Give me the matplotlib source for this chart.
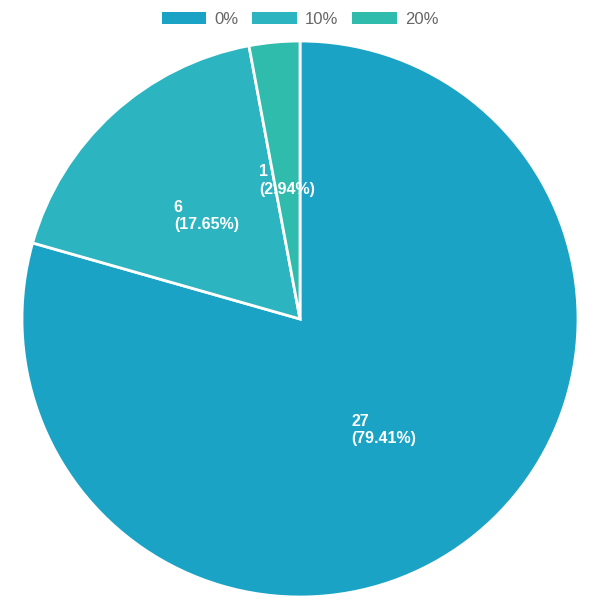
import matplotlib.pyplot as plt
from matplotlib.patches import Patch
import numpy as np

categories = ["0%", "10%", "20%"]
counts = [27, 6, 1]
colors = ["#1ba3c6", "#2cb5c0", "#30bcad"]

total = sum(counts)

fig = plt.figure(figsize=(6, 6), dpi=100)
ax = fig.add_axes([0, 0, 1, 1])

# pie in pixel units: center (300, 319 from top), radius 278
cx, cy, R = 300, 600 - 319, 278
wedges, _ = ax.pie(counts, colors=colors, startangle=90, counterclock=False,
                   center=(cx, cy), radius=R,
                   wedgeprops=dict(edgecolor="white", linewidth=2))
ax.set_xlim(0, 600)
ax.set_ylim(0, 600)
ax.set_aspect("equal")
ax.axis("off")

for n, w in zip(counts, wedges):
    mid = np.deg2rad((w.theta1 + w.theta2) / 2)
    x = cx + R / 2 * np.cos(mid)
    y = cy + R / 2 * np.sin(mid)
    ax.text(x, y, "%d\n(%.2f%%)" % (n, n / total * 100), ha="center", va="center",
            multialignment="left", color="white", fontsize=11.5, fontweight="bold",
            family="Liberation Sans", linespacing=1.2)

handles = [Patch(facecolor=c, edgecolor="none") for c in colors]
leg = ax.legend(handles, categories, loc="upper center", bbox_to_anchor=(0.5, 1.0),
                ncol=3, frameon=False, handlelength=2.65, handleheight=0.7,
                handletextpad=0.5, columnspacing=0.85, borderaxespad=0.3,
                prop={"family": "Liberation Sans", "size": 12})
for t in leg.get_texts():
    t.set_color("#666666")

fig.savefig("out.png", dpi=100)
